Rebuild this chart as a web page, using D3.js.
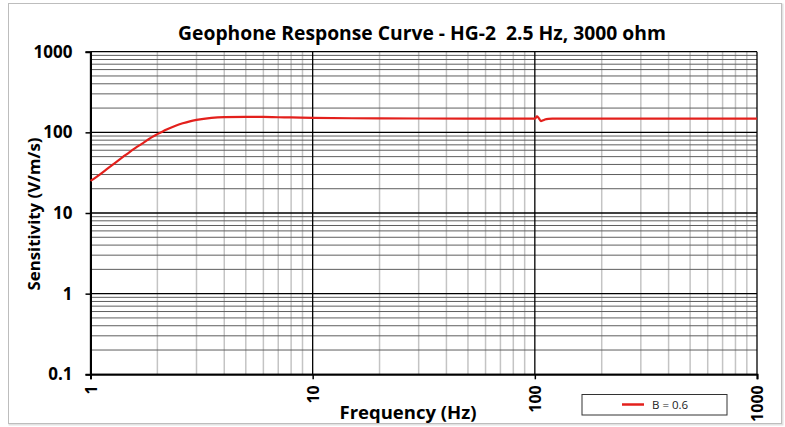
<!DOCTYPE html>
<html>
<head>
<meta charset="utf-8">
<script src="https://cdn.jsdelivr.net/npm/d3@7"></script>
<style>
  html, body { margin: 0; padding: 0; background: #fff; }
  svg { display: block; }
  text { font-family: "Open Sans", "DejaVu Sans", sans-serif; white-space: pre; }
</style>
</head>
<body>
<svg id="chart" width="785" height="427"></svg>
<script>
// ---- data ----
const title = "Geophone Response Curve - HG-2  2.5 Hz, 3000 ohm";
const xLabel = "Frequency (Hz)";
const yLabel = "Sensitivity (V/m/s)";
const seriesName = "B = 0.6";
const xTicks = [1, 10, 100, 1000];
const xTickLabels = ["1", "10", "100", "1000"];
const yTicks = [0.1, 1, 10, 100, 1000];
const yTickLabels = ["0.1", "1", "10", "100", "1000"];
const frequency = [1, 1.1, 1.2, 1.3, 1.4, 1.5, 1.6, 1.7, 1.8, 1.9, 2, 2.2, 2.4, 2.6, 2.8, 3, 3.5, 4, 5, 6, 7, 8, 10, 15, 20, 30, 50, 70, 100, 101, 102.2, 104, 106.5, 109, 111, 115, 120, 150, 200, 300, 500, 700, 1000];
const sensitivity = [25, 30, 36, 42.5, 49.5, 57, 64.5, 72, 80, 88, 95, 108.5, 120, 129.5, 137, 142.5, 151, 154.5, 156, 155.5, 154, 153, 151, 149.5, 149, 148.5, 148, 148, 148, 152, 158, 151, 138, 141, 144, 147, 148, 148, 148, 148, 148, 148, 148];

// ---- layout ----
const svg = d3.select("#chart");
const L = 90.5, R = 757, T = 51.7, B = 374.3;
const x = d3.scaleLog().domain([1, 1000]).range([L, R]);
const y = d3.scaleLog().domain([0.1, 1000]).range([B, T]);

// outer chart border
svg.append("rect").attr("x", 9.5).attr("y", 4.5).attr("width", 773).attr("height", 420)
  .attr("fill", "none").attr("stroke", "#e2e2e2").attr("stroke-width", 2);
svg.append("rect").attr("x", 8.5).attr("y", 3.5).attr("width", 773).attr("height", 420)
  .attr("fill", "#fff").attr("stroke", "#bdbdbd").attr("stroke-width", 1);

// minor values
const minors = (lo, hi) => {
  const out = [];
  for (let d = lo; d < hi; d *= 10) for (let k = 2; k <= 9; k++) out.push(d * k);
  return out;
};
const g = svg.append("g");
// vertical minor grid (light)
g.selectAll(".vminor").data(minors(1, 1000)).enter().append("line")
  .attr("x1", d => x(d)).attr("x2", d => x(d)).attr("y1", T).attr("y2", B)
  .attr("stroke", "#c4c4c4").attr("stroke-width", 1.5);
// horizontal minor grid (darker)
g.selectAll(".hminor").data(minors(0.1, 1000)).enter().append("line")
  .attr("x1", L).attr("x2", R).attr("y1", d => y(d)).attr("y2", d => y(d))
  .attr("stroke", "#5e5e5e").attr("stroke-width", 1);
// major grid
g.selectAll(".vmajor").data(xTicks).enter().append("line")
  .attr("x1", d => x(d)).attr("x2", d => x(d)).attr("y1", T).attr("y2", B)
  .attr("stroke", "#000").attr("stroke-width", 1.3);
g.selectAll(".hmajor").data(yTicks).enter().append("line")
  .attr("x1", L).attr("x2", R).attr("y1", d => y(d)).attr("y2", d => y(d))
  .attr("stroke", "#000").attr("stroke-width", 1.3);

// axes
const yAxis = d3.axisLeft(y).tickValues(yTicks).tickSize(5).tickPadding(13)
  .tickFormat((d, i) => yTickLabels[i]);
const ya = svg.append("g").attr("transform", `translate(${L},0)`).call(yAxis);
ya.select(".domain").attr("stroke", "#000").attr("stroke-width", 2);
ya.selectAll(".tick line").attr("stroke", "#000").attr("stroke-width", 1.5);
ya.selectAll(".tick text").attr("font-size", 17).attr("font-weight", 700)
  .attr("fill", "#000").style("font-family", '"Open Sans", sans-serif');

const xAxis = d3.axisBottom(x).tickValues(xTicks).tickSize(5).tickFormat((d, i) => xTickLabels[i]);
const xa = svg.append("g").attr("transform", `translate(0,${B})`).call(xAxis);
xa.select(".domain").attr("stroke", "#000").attr("stroke-width", 2);
xa.selectAll(".tick line").attr("stroke", "#000").attr("stroke-width", 1.5);
xa.selectAll(".tick text")
  .attr("font-size", 16).attr("font-weight", 700).attr("fill", "#000")
  .style("font-family", '"Open Sans", sans-serif')
  .attr("text-anchor", "end")
  .attr("transform", "translate(0,11) rotate(-90)")
  .attr("x", 0).attr("y", 0).attr("dy", "0.36em");

// the curve
const pts = frequency.map((f, i) => [f, sensitivity[i]]);
svg.append("path").datum(pts)
  .attr("fill", "none").attr("stroke", "#e3201c").attr("stroke-width", 2.2)
  .attr("d", d3.line().x(d => x(d[0])).y(d => y(d[1])).curve(d3.curveMonotoneX));

// title and axis labels
svg.append("text").attr("x", 422).attr("y", 39.5).attr("text-anchor", "middle")
  .attr("font-size", 19.3).attr("font-weight", 700).attr("fill", "#000").text(title);
svg.append("text").attr("x", 408).attr("y", 419).attr("text-anchor", "middle")
  .attr("font-size", 18.5).attr("font-weight", 700).attr("fill", "#000").text(xLabel);
svg.append("text").attr("transform", "translate(40,214) rotate(-90)").attr("text-anchor", "middle")
  .attr("font-size", 16.8).attr("font-weight", 700).attr("fill", "#000").text(yLabel);

// legend
const lg = svg.append("g");
lg.append("rect").attr("x", 582).attr("y", 394.5).attr("width", 145).attr("height", 20.5)
  .attr("fill", "#fff").attr("stroke", "#333").attr("stroke-width", 1);
lg.append("line").attr("x1", 622).attr("x2", 644).attr("y1", 404.5).attr("y2", 404.5)
  .attr("stroke", "#e3201c").attr("stroke-width", 2.5);
lg.append("text").attr("x", 652).attr("y", 408.5).attr("font-size", 11.5).attr("fill", "#222").text(seriesName);
</script>
</body>
</html>
